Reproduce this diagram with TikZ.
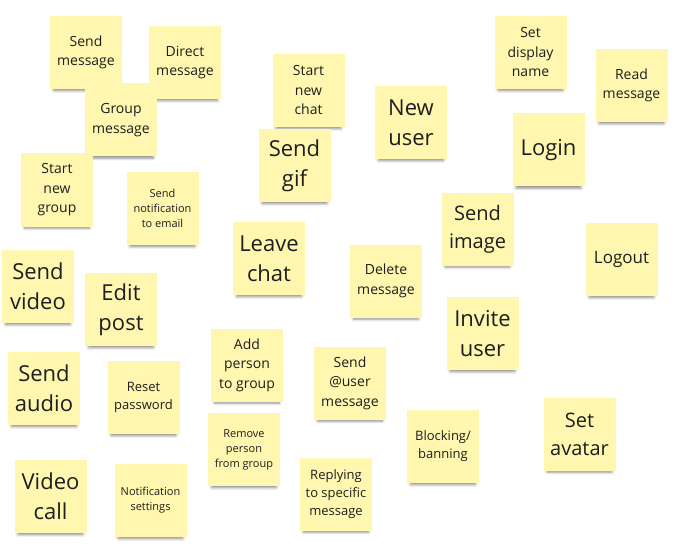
\documentclass[tikz,border=0pt]{standalone}
\usepackage{fontspec}
\setmainfont{Open Sans}
\usepackage{tikz}
\usetikzlibrary{shadows.blur}
\definecolor{stickyYellow}{RGB}{255,247,175}
\definecolor{inkGray}{RGB}{30,30,30}
\tikzset{
  sticky/.style={fill=stickyYellow, draw=none, align=center, text=inkGray,
                 minimum width=72pt, minimum height=73pt, inner sep=2pt,
                 blur shadow={shadow xshift=0pt, shadow yshift=-6pt, shadow scale=0.9,
                              shadow opacity=45, shadow blur radius=3pt}},
  bigtext/.style={sticky, font=\fontsize{22}{30}\selectfont},
  midtext/.style={sticky, font=\fontsize{20}{28}\selectfont},
  logtext/.style={sticky, font=\fontsize{17}{24}\selectfont},
  smalltext/.style={sticky, font=\fontsize{14}{19.5}\selectfont},
  redtext/.style={sticky, font=\fontsize{13}{18}\selectfont},
  tinytext/.style={sticky, font=\fontsize{11}{15}\selectfont}
}
\begin{document}
\begin{tikzpicture}[x=1pt, y=-1pt]
\useasboundingbox (0,0) rectangle (682,548);
\node[smalltext] (sendmsg) at (86,52.5) {Send\\message};
\node[smalltext] (directmsg) at (185,62.5) {Direct\\message};
\node[smalltext] (groupmsg) at (121,120) {Group\\message};
\node[smalltext] (startgroup) at (57,190) {Start\\new\\group};
\node[tinytext] (notifyemail) at (162.5,208.5) {Send\\notification\\to email};
\node[smalltext] (startchat) at (308.5,90.5) {Start\\new\\chat};
\node[bigtext] (sendgif) at (294.5,165.5) {Send\\gif};
\node[bigtext] (newuser) at (411,122.5) {New\\user};
\node[bigtext] (leavechat) at (269,258.5) {Leave\\chat};
\node[smalltext] (deletemsg) at (386,281) {Delete\\message};
\node[smalltext] (displayname) at (530.5,52.5) {Set\\display\\name};
\node[smalltext] (readmsg) at (631.5,85.5) {Read\\message};
\node[bigtext] (login) at (548.5,150) {Login};
\node[midtext] (sendimage) at (477.5,229) {Send\\image};
\node[logtext] (logout) at (621.5,259.5) {Logout};
\node[bigtext] (inviteuser) at (482.5,333.5) {Invite\\user};
\node[bigtext] (sendvideo) at (38,286.5) {Send\\video};
\node[bigtext] (editpost) at (121,309.5) {Edit\\post};
\node[bigtext] (sendaudio) at (44,388.5) {Send\\audio};
\node[redtext] (resetpw) at (143.5,397.5) {Reset\\password};
\node[bigtext] (videocall) at (50.5,496.5) {Video\\call};
\node[tinytext] (notifysettings) at (150.5,500.5) {Notification\\settings};
\node[smalltext] (addperson) at (247,365) {Add\\person\\to group};
\node[tinytext] (removeperson) at (244,449.5) {Remove\\person\\from group};
\node[smalltext] (atuser) at (350,383) {Send\\@user\\message};
\node[redtext] (replying) at (336,494) {Replying\\to specific\\message};
\node[redtext] (blocking) at (443,446.5) {Blocking/\\banning};
\node[midtext] (setavatar) at (579.5,434) {Set\\avatar};
\end{tikzpicture}
\end{document}
